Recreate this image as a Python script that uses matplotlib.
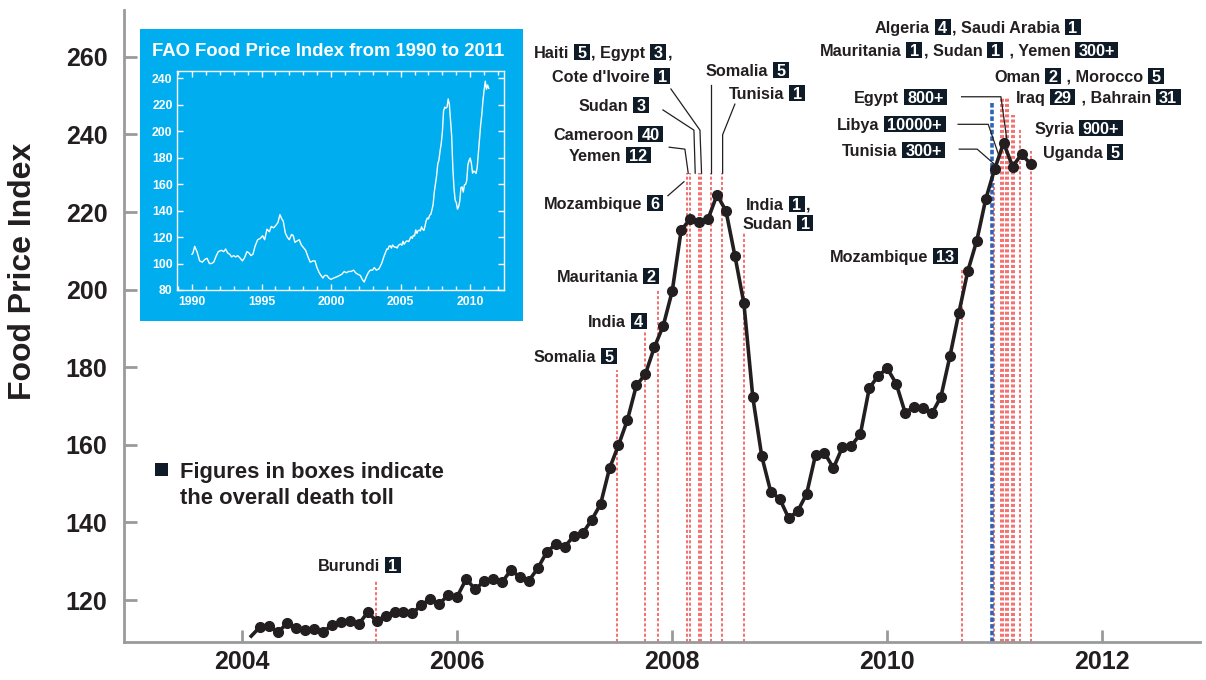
import numpy as np
import matplotlib
matplotlib.use("Agg")
import matplotlib.pyplot as plt
from matplotlib.patches import Rectangle

plt.rcParams["font.family"] = ["Liberation Sans", "DejaVu Sans"]
plt.rcParams["font.weight"] = "bold"

W, H = 1206, 680
INK = "#231f20"
NAVY = "#0f1c28"
RED = "#ee2a2a"
BLUE = "#2f63b5"
CYAN = "#00aeef"
GREY = "#9a9a9a"

# FAO food price index, monthly, Feb 2004 .. May 2011
start_year, start_month = 2004, 2
fpi = [110.7, 113.1, 113.4, 111.7, 114.0, 112.9, 112.3, 112.5, 111.7, 113.6, 114.4,
       114.7, 113.8, 116.8, 114.6, 115.9, 117.0, 117.0, 116.6, 118.7, 120.3, 119.0, 121.3,
       120.9, 125.4, 122.8, 124.8, 125.3, 124.6, 127.7, 125.9, 125.0, 128.2, 132.4, 134.4,
       133.7, 136.5, 137.2, 140.6, 144.7, 153.9, 159.9, 166.4, 175.3, 178.2, 185.1, 190.7,
       199.6, 215.3, 218.2, 217.4, 218.2, 224.4, 220.3, 208.7, 196.5, 172.2, 157.0, 147.9,
       146.1, 141.1, 142.9, 147.3, 157.4, 157.9, 154.0, 159.4, 159.8, 162.7, 174.6, 177.8,
       179.7, 175.8, 168.3, 169.8, 169.4, 168.1, 172.4, 182.8, 194.0, 204.8, 212.6, 223.3,
       231.1, 237.8, 231.7, 234.9, 232.4]
x_fpi = start_year + (start_month - 1 + np.arange(len(fpi))) / 12

# older part of the index for the inset (1990 - 2003)
old_years = [1990.00, 1990.07, 1990.19, 1990.36, 1990.55, 1990.74, 1990.91, 1991.08, 1991.25,
             1991.39, 1991.56, 1991.75, 1991.89, 1992.11, 1992.28, 1992.42, 1992.56, 1992.71,
             1992.85, 1992.99, 1993.14, 1993.28, 1993.47, 1993.62, 1993.76, 1993.95, 1994.10,
             1994.24, 1994.38, 1994.53, 1994.72, 1994.91, 1995.08, 1995.22, 1995.39, 1995.56,
             1995.70, 1995.87, 1996.04, 1996.18, 1996.32, 1996.44, 1996.56, 1996.71, 1996.85,
             1996.99, 1997.16, 1997.28, 1997.40, 1997.54, 1997.71, 1997.86, 1998.02, 1998.17,
             1998.34, 1998.50, 1998.69, 1998.84, 1998.98, 1999.15, 1999.27, 1999.41, 1999.53,
             1999.70, 1999.84, 1999.99, 2000.18, 2000.42, 2000.61, 2000.78, 2000.95, 2001.09,
             2001.26, 2001.43, 2001.62, 2001.76, 2001.90, 2002.10, 2002.24, 2002.38, 2002.53,
             2002.67, 2002.81, 2002.98, 2003.10, 2003.25, 2003.44, 2003.63, 2003.82, 2004.01]
old_vals = [107, 108, 113, 109, 102, 101, 103, 104, 100, 100, 101, 106, 109, 110, 109, 111, 108,
            107, 105, 106, 105, 106, 104, 102, 104, 109, 108, 106, 107, 113, 118, 119, 121, 118,
            126, 124, 128, 127, 129, 131, 137, 134, 132, 123, 120, 118, 122, 121, 116, 117, 118,
            114, 112, 110, 105, 101, 102, 102, 97, 93, 91, 89, 91, 91, 89, 88, 89, 90, 91, 92,
            94, 93, 94, 94, 95, 93, 92, 91, 88, 86, 90, 93, 95, 95, 97, 95, 96, 100, 106, 111]

# protest / riot dates (red dashed) and how high each marker line reaches
event_x = [2005.244, 2007.488, 2007.749, 2007.864, 2008.136, 2008.167, 2008.248, 2008.267,
           2008.357, 2008.465, 2008.670, 2010.698, 2010.993, 2011.058, 2011.079, 2011.101,
           2011.120, 2011.163, 2011.181, 2011.234, 2011.337]
event_top = [124.9, 179.3, 189.1, 200.2, 230.1, 230.1, 230.1, 230.1, 230.1, 230.1, 214.6,
             205.1, 227.5, 249.7, 249.7, 249.7, 249.7, 245.0, 245.0, 241.6, 235.7]
blue_x, blue_top = 2010.971, 248.1

# leader lines (date, index)
leaders = [
    ([2007.960, 2008.109], [224.2, 227.8]),
    ([2007.972, 2008.118, 2008.149], [236.7, 236.2, 230.0]),
    ([2007.914, 2008.202, 2008.214], [246.3, 241.1, 230.0]),
    ([2007.988, 2008.258, 2008.273], [251.7, 241.1, 230.0]),
    ([2008.360, 2008.360], [252.7, 230.0]),
    ([2008.583, 2008.469, 2008.469], [247.8, 239.9, 230.0]),
    ([2010.692, 2011.058, 2011.116], [249.7, 249.7, 238.1]),
    ([2010.660, 2010.940, 2011.042], [242.6, 242.6, 234.3]),
    ([2010.670, 2010.837, 2011.023], [236.2, 236.2, 231.7]),
]


def box(s):
    return ("box", s)


labels = [
    (318, 565, ["Burundi", box("1")]),
    (534, 356, ["Somalia", box("5")]),
    (588, 321, ["India", box("4")]),
    (557, 276, ["Mauritania", box("2")]),
    (544, 203, ["Mozambique", box("6")]),
    (569, 155, ["Yemen", box("12")]),
    (553, 134, ["Cameroon", box("40")]),
    (579, 105, ["Sudan", box("3")]),
    (552, 76, ["Cote d'Ivoire", box("1")]),
    (534, 52, ["Haiti", box("5"), ", Egypt", box("3"), ","]),
    (706, 70, ["Somalia", box("5")]),
    (729, 93, ["Tunisia", box("1")]),
    (746, 204, ["India", box("1"), ","]),
    (743, 223, ["Sudan", box("1")]),
    (830, 256, ["Mozambique", box("13")]),
    (875, 27, ["Algeria", box("4"), ", Saudi Arabia", box("1")]),
    (820, 50, ["Mauritania", box("1"), ", Sudan", box("1"), " , Yemen", box("300+")]),
    (994, 76, ["Oman", box("2"), " , Morocco", box("5")]),
    (854, 97, ["Egypt", box("800+")]),
    (1016, 97, ["Iraq", box("29"), " , Bahrain", box("31")]),
    (837, 124, ["Libya", box("10000+")]),
    (1035, 128, ["Syria", box("900+")]),
    (842, 150, ["Tunisia", box("300+")]),
    (1043, 152, ["Uganda", box("5")]),
]

fig = plt.figure(figsize=(W / 100, H / 100), dpi=100)
renderer = fig.canvas.get_renderer()


def fx(px):
    return px / W


def fy(py):
    return 1 - py / H


# main chart
ax = fig.add_axes([fx(124), fy(642), (1200 - 124) / W, (642 - 10) / H])
ax.set_xlim(2002.90, 2012.91)
ax.set_ylim(109.18, 272.06)
ax.patch.set_alpha(0)

ax.vlines(event_x, 109.18, event_top, colors=RED, linewidth=1.1,
          linestyles=(0, (2.0, 1.4)), alpha=0.85, zorder=1)
ax.vlines([blue_x], 109.18, [blue_top], colors=BLUE, linewidth=2.6,
          linestyles=(0, (1.25, 0.6)), zorder=1)
ax.plot(x_fpi, fpi, color=INK, linewidth=2.6, marker="o", markersize=7,
        markevery=slice(1, None), zorder=3)
for lx, ly in leaders:
    ax.plot(lx, ly, color=INK, linewidth=0.9, zorder=2, clip_on=False)

ax.set_xticks([2004, 2006, 2008, 2010, 2012])
ax.set_yticks(range(120, 261, 20))
ax.tick_params(axis="both", direction="in", length=9, width=2, color=GREY,
               labelsize=18, labelcolor=INK)
ax.tick_params(axis="y", pad=12)
ax.tick_params(axis="x", pad=6)
for s in ["top", "right"]:
    ax.spines[s].set_visible(False)
for s in ["left", "bottom"]:
    ax.spines[s].set_color(GREY)
    ax.spines[s].set_linewidth(2)

fig.text(fx(23), fy(271), "Food Price Index", rotation=90, fontsize=23,
         ha="center", va="center", color=INK)

# legend note
fig.add_artist(Rectangle((fx(155), fy(476)), 13 / W, 13 / H, transform=fig.transFigure,
                         facecolor=NAVY, edgecolor="none"))
fig.text(fx(180), fy(478), "Figures in boxes indicate", fontsize=15.8, color=INK, va="baseline")
fig.text(fx(180), fy(504), "the overall death toll", fontsize=15.8, color=INK, va="baseline")

# labels with death-toll boxes
size = 11.7
cap = 0.716 * size * 100 / 72
for x0, yc, parts in labels:
    x = x0
    base = yc + cap / 2
    prev_box = False
    for p in parts:
        if isinstance(p, tuple):
            x += 4.5 if not prev_box else 0
            t = fig.text(fx(x + 3.5), fy(base), p[1], fontsize=size, color="white",
                         va="baseline", zorder=4)
            w = t.get_window_extent(renderer).width
            fig.add_artist(Rectangle((fx(x), fy(base + 2)), (w + 7) / W, (cap + 4) / H,
                                     transform=fig.transFigure, facecolor=NAVY,
                                     edgecolor="none", zorder=3))
            x += w + 7
            prev_box = True
        else:
            x += 1.5 if prev_box else 0
            t = fig.text(fx(x), fy(base), p, fontsize=size, color=INK, va="baseline")
            x += t.get_window_extent(renderer).width
            prev_box = False

# inset: the longer view
bg = fig.add_axes([fx(140), fy(321), 383 / W, 292 / H])
bg.set_facecolor(CYAN)
bg.set_xticks([])
bg.set_yticks([])
for s in bg.spines.values():
    s.set_visible(False)
fig.text(fx(152), fy(55.7), "FAO Food Price Index from 1990 to 2011", fontsize=13.3,
         color="white", va="baseline")

ins = fig.add_axes([fx(176.7), fy(290), 327.6 / W, 219 / H])
ins.set_facecolor(CYAN)
ins.plot(list(old_years) + list(x_fpi), list(old_vals) + list(fpi), color="white", linewidth=1)
ins.set_xlim(1988.9, 2012.45)
ins.set_ylim(80, 245.5)
ins.set_xticks([1990, 1995, 2000, 2005, 2010])
ins.set_xticks(range(1989, 2013), minor=True)
ins.set_yticks(range(80, 241, 20))
ins.tick_params(which="both", direction="in", color="white", width=1,
                top=True, right=True, labelsize=8.8, labelcolor="white")
ins.tick_params(which="major", length=4)
ins.tick_params(which="minor", length=3)
ins.tick_params(axis="x", pad=4)
ins.tick_params(axis="y", pad=3)
for s in ins.spines.values():
    s.set_color("white")
    s.set_linewidth(1)

fig.savefig("out.png", dpi=100)
